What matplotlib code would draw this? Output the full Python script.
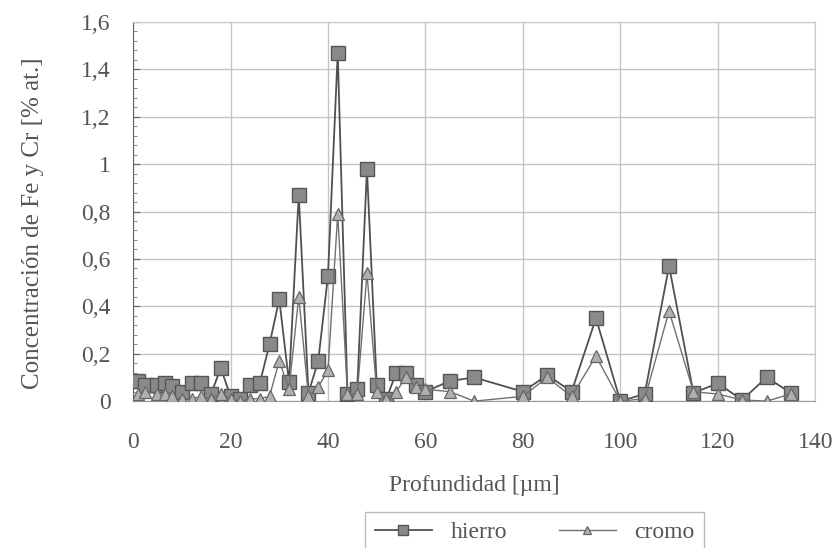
import matplotlib
matplotlib.use("Agg")
import matplotlib.pyplot as plt
from matplotlib.ticker import MultipleLocator, FuncFormatter

# Profundidad [µm]
depth_fe = [1, 2.5, 5, 6.5, 8, 10, 12, 14, 16, 18, 20, 22, 24, 26, 28, 30, 32, 34, 36, 38, 40, 42,
            44, 46, 48, 50, 52, 54, 56, 58, 60, 65, 70, 80, 85, 90, 95, 100, 105, 110, 115, 120,
            125, 130, 135]
hierro = [0.085, 0.07, 0.07, 0.075, 0.065, 0.04, 0.075, 0.075, 0.03, 0.14, 0.02, 0.01, 0.07, 0.075,
          0.24, 0.43, 0.08, 0.87, 0.035, 0.17, 0.53, 1.47, 0.03, 0.05, 0.98, 0.07, 0.01, 0.12,
          0.12, 0.07, 0.04, 0.085, 0.10, 0.04, 0.11, 0.04, 0.35, 0.0, 0.03, 0.57, 0.035, 0.075,
          0.005, 0.10, 0.035]

depth_cr = [1, 2.5, 5, 6.5, 8, 10, 12, 14, 16, 18, 20, 22, 24, 26, 28, 30, 32, 34, 36, 38, 40, 42,
            44, 46, 48, 50, 52, 54, 56, 58, 60, 65, 70, 80, 85, 90, 95, 100, 105, 110, 115, 120,
            125, 130, 135]
cromo = [0.03, 0.04, 0.03, 0.03, 0.02, 0.01, 0.01, 0.02, 0.01, 0.03, 0.01, 0.0, 0.01, 0.01,
         0.02, 0.17, 0.05, 0.44, 0.02, 0.06, 0.13, 0.79, 0.03, 0.03, 0.54, 0.04, 0.01, 0.04,
         0.10, 0.06, 0.05, 0.04, 0.0, 0.02, 0.10, 0.02, 0.19, 0.0, 0.01, 0.38, 0.04, 0.03,
         0.005, 0.0, 0.03]

x_ticks = [0, 20, 40, 60, 80, 100, 120, 140]
y_ticks = [0, 0.2, 0.4, 0.6, 0.8, 1.0, 1.2, 1.4, 1.6]

plt.rcParams['font.family'] = ['Liberation Serif', 'DejaVu Serif']

fig = plt.figure(figsize=(8.37, 5.48), dpi=100)
ax = fig.add_axes([0.159, 0.268, 0.815, 0.692])

text_col = '#555555'
ax.plot(depth_fe, hierro, color='#505050', lw=1.3, marker='s', ms=10.5,
        markerfacecolor='#8a8a8a', markeredgecolor='#555555', markeredgewidth=1.0,
        label='hierro', zorder=3)
ax.plot(depth_cr, cromo, color='#707070', lw=1.0, marker='^', ms=9,
        markerfacecolor='#b0b0b0', markeredgecolor='#666666', markeredgewidth=0.9,
        label='cromo', zorder=4)

ax.set_xlim(0, 140)
ax.set_ylim(0, 1.6)
ax.set_xticks(x_ticks)
ax.set_yticks(y_ticks)
ax.yaxis.set_minor_locator(MultipleLocator(0.04))
ax.yaxis.set_major_formatter(FuncFormatter(lambda v, p: ('%g' % round(v, 1)).replace('.', ',')))

ax.grid(True, which='major', color='#c4c4c4', lw=1.0)
ax.set_axisbelow(True)
for side in ['top', 'right']:
    ax.spines[side].set_color('#c8c8c8')
ax.spines['left'].set_color('#666666')
ax.spines['bottom'].set_color('#999999')
ax.tick_params(axis='both', which='major', labelsize=17, labelcolor=text_col,
               color='#666666')
ax.tick_params(axis='x', length=0, pad=22)
ax.tick_params(axis='y', which='minor', direction='in', length=3, color='#777777')
ax.tick_params(axis='y', which='major', direction='in', length=5, pad=16)

ax.set_xlabel('Profundidad [µm]', fontsize=17, color=text_col, labelpad=16)
ax.set_ylabel('Concentración de Fe y Cr [% at.]', fontsize=18, color=text_col, labelpad=28)
ax.yaxis.set_label_coords(-0.13, 0.47)

leg = fig.legend(loc='lower center', bbox_to_anchor=(0.639, -0.03), ncol=2, fontsize=17,
                 frameon=True, fancybox=False, edgecolor='#aaaaaa', handlelength=2.4,
                 columnspacing=2.2, borderpad=0.4, markerscale=0.7)
for t in leg.get_texts():
    t.set_color(text_col)

fig.savefig('out.png', dpi=100)
